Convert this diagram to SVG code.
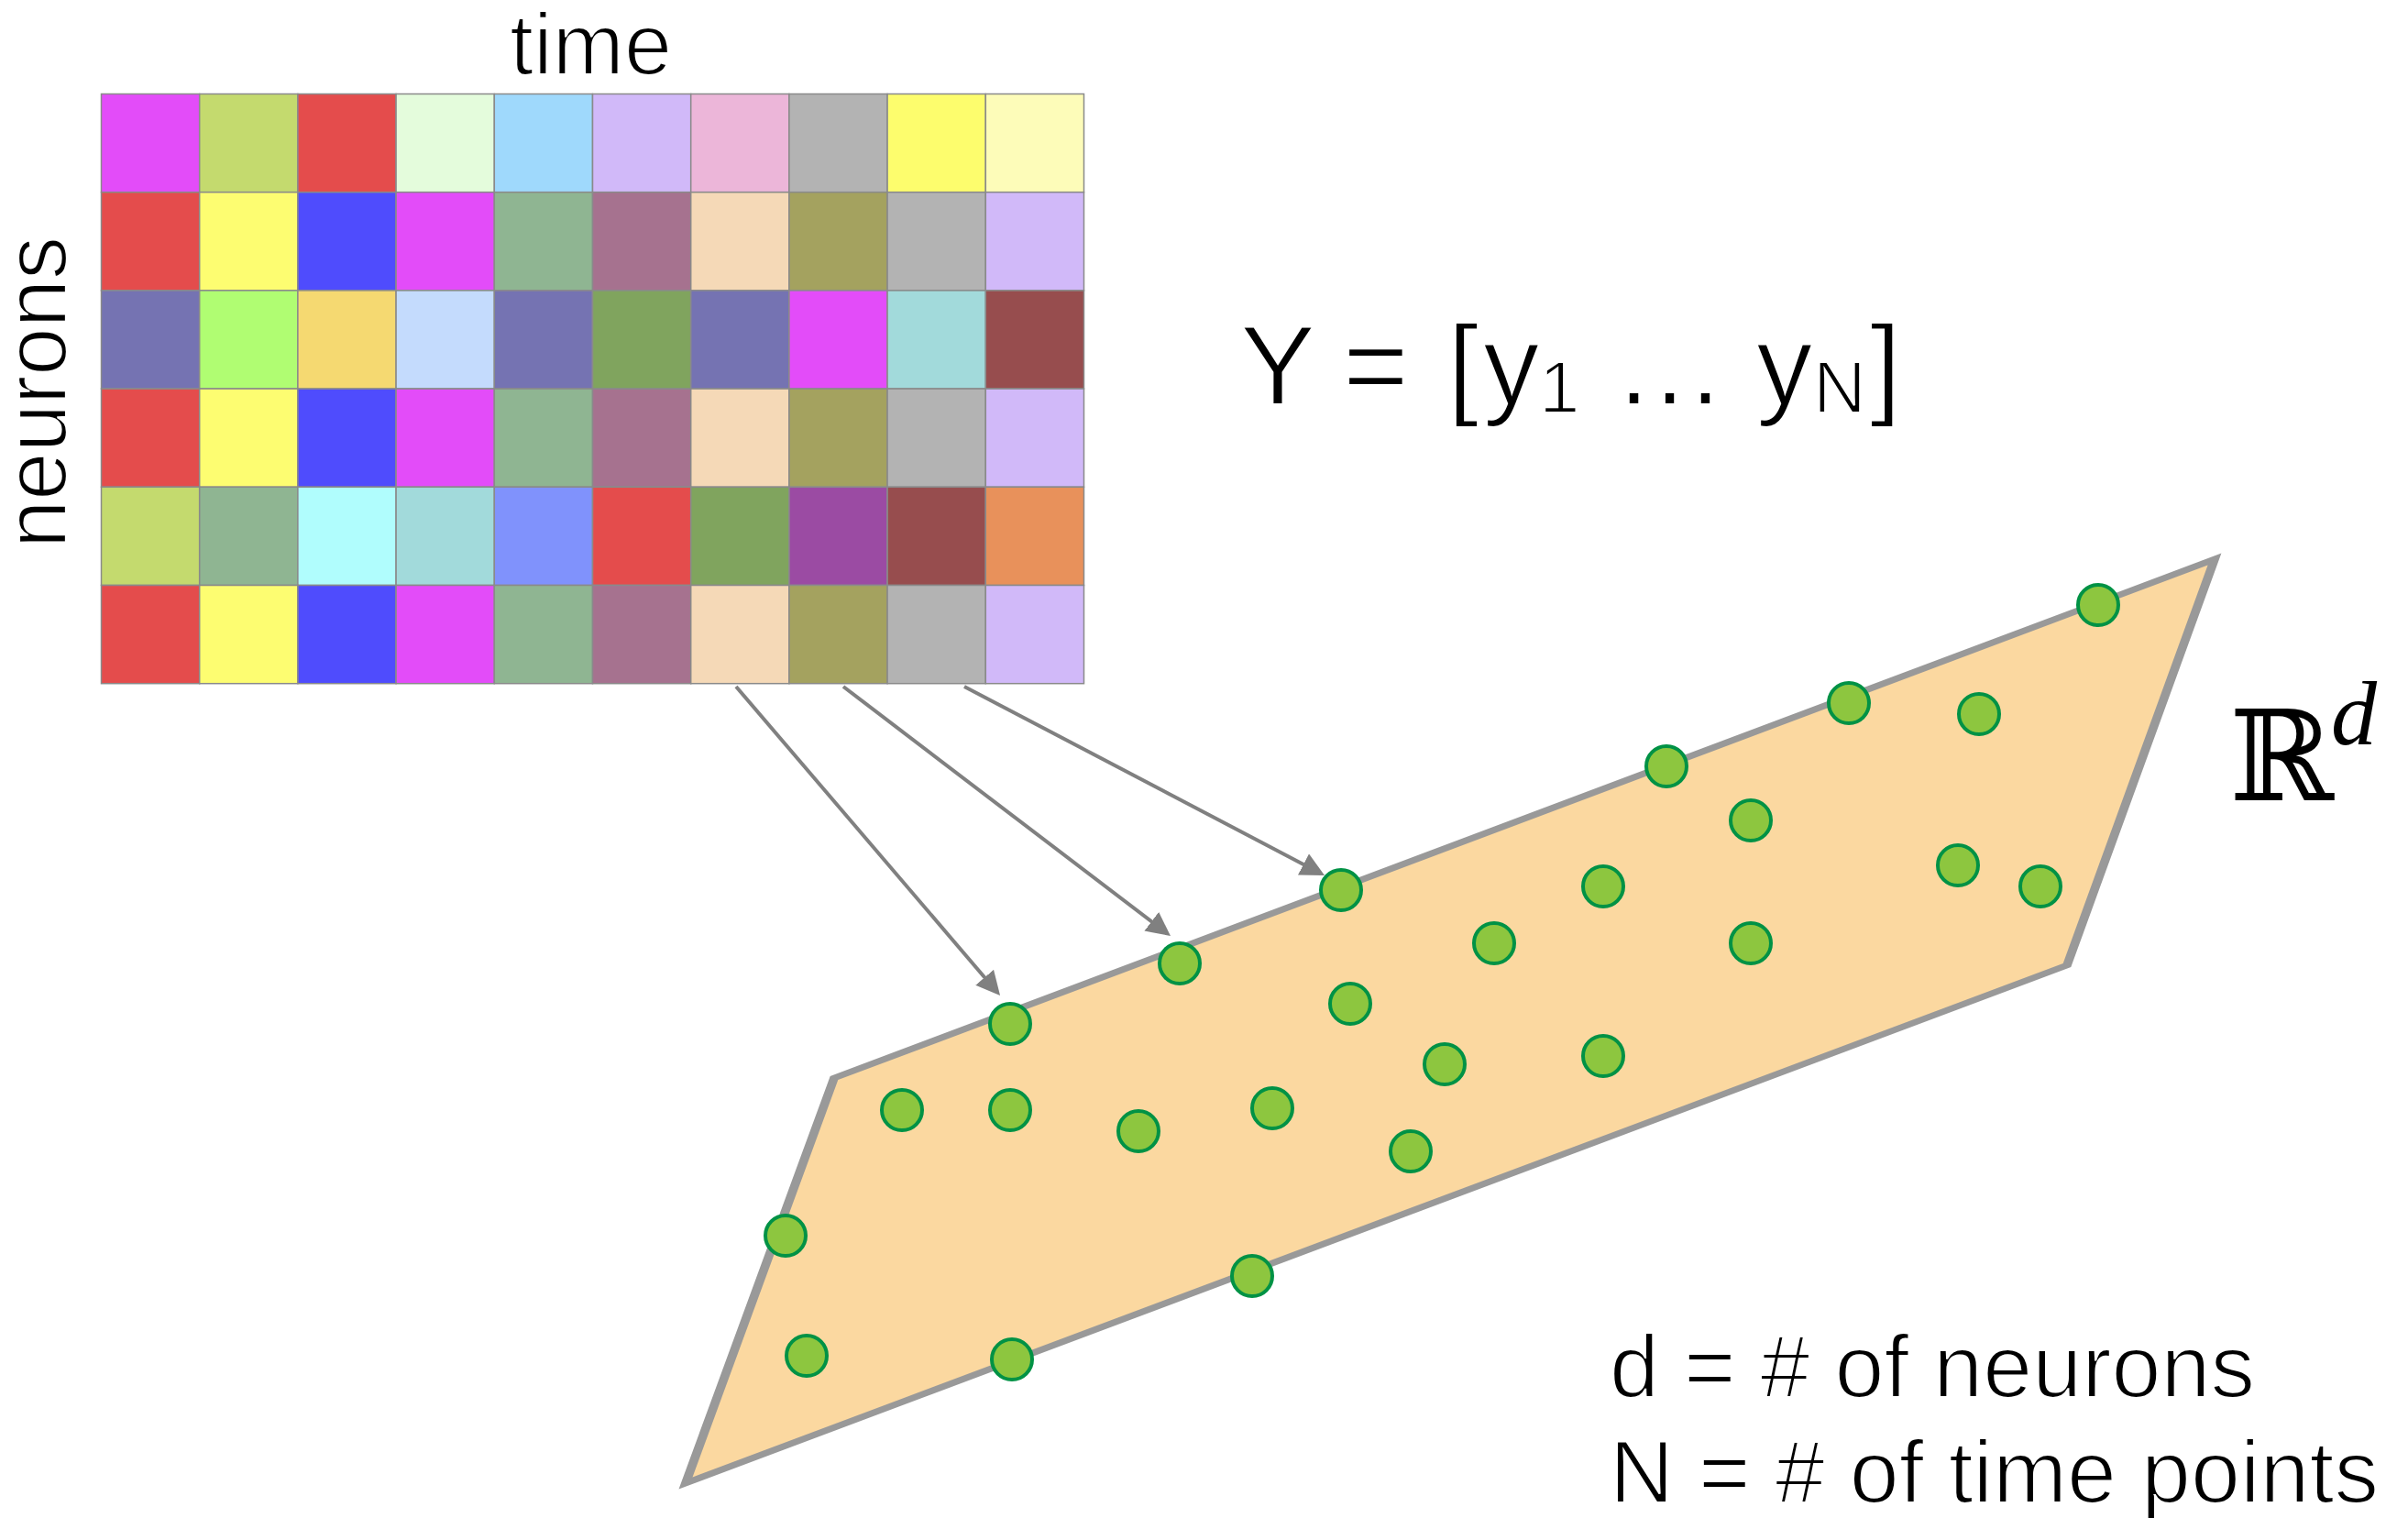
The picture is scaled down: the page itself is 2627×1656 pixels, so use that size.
<svg xmlns="http://www.w3.org/2000/svg" width="2627" height="1656" viewBox="0 0 2627 1656">
<style>
  .lbl { font-family: "Liberation Sans", Arial, Helvetica, sans-serif; fill: #000; stroke: #ffffff; stroke-width: 2.2; paint-order: fill stroke; }
  .cell { stroke: #8a8a8a; stroke-width: 1.5; }
  .dot { fill: #8dc63f; stroke: #009245; stroke-width: 4; }
  .arrow { stroke: #808080; stroke-width: 4; fill: none; marker-end: url(#ah); }
</style>
<defs>
  <marker id="ah" markerUnits="userSpaceOnUse" markerWidth="26" markerHeight="26" refX="21" refY="13" orient="auto">
    <path d="M0,0 L26,13 L0,26 Z" fill="#808080"/>
  </marker>
</defs>
<rect width="2627" height="1656" fill="#ffffff"/>

<g id="time-label"><text class="lbl" x="556" y="81" font-size="94" textLength="177" lengthAdjust="spacingAndGlyphs">time</text></g>
<g id="neurons-label"><text class="lbl" transform="translate(71.5,598) rotate(-90)" font-size="96" textLength="340" lengthAdjust="spacingAndGlyphs">neurons</text></g>

<g id="matrix">
  <g transform="translate(110.5,102.5)">
    <rect class="cell" x="0" y="0" width="107.2" height="107.2" fill="#e34cf9"/>
    <rect class="cell" x="107.2" y="0" width="107.2" height="107.2" fill="#c4da6e"/>
    <rect class="cell" x="214.4" y="0" width="107.2" height="107.2" fill="#e44c4c"/>
    <rect class="cell" x="321.6" y="0" width="107.2" height="107.2" fill="#e4fcdc"/>
    <rect class="cell" x="428.8" y="0" width="107.2" height="107.2" fill="#9fd9fc"/>
    <rect class="cell" x="536" y="0" width="107.2" height="107.2" fill="#d1b9f9"/>
    <rect class="cell" x="643.2" y="0" width="107.2" height="107.2" fill="#ecb6d9"/>
    <rect class="cell" x="750.4" y="0" width="107.2" height="107.2" fill="#b3b3b3"/>
    <rect class="cell" x="857.6" y="0" width="107.2" height="107.2" fill="#fdfd6d"/>
    <rect class="cell" x="964.8" y="0" width="107.2" height="107.2" fill="#fdfcb9"/>

    <rect class="cell" x="0" y="107.2" width="107.2" height="107.2" fill="#e44c4c"/>
    <rect class="cell" x="107.2" y="107.2" width="107.2" height="107.2" fill="#fdfd71"/>
    <rect class="cell" x="214.4" y="107.2" width="107.2" height="107.2" fill="#4f4cfd"/>
    <rect class="cell" x="321.6" y="107.2" width="107.2" height="107.2" fill="#e34cf9"/>
    <rect class="cell" x="428.8" y="107.2" width="107.2" height="107.2" fill="#8fb592"/>
    <rect class="cell" x="536" y="107.2" width="107.2" height="107.2" fill="#a6728f"/>
    <rect class="cell" x="643.2" y="107.2" width="107.2" height="107.2" fill="#f5d9b7"/>
    <rect class="cell" x="750.4" y="107.2" width="107.2" height="107.2" fill="#a4a25f"/>
    <rect class="cell" x="857.6" y="107.2" width="107.2" height="107.2" fill="#b3b3b3"/>
    <rect class="cell" x="964.8" y="107.2" width="107.2" height="107.2" fill="#d1b9f9"/>

    <rect class="cell" x="0" y="214.4" width="107.2" height="107.2" fill="#7573b2"/>
    <rect class="cell" x="107.2" y="214.4" width="107.2" height="107.2" fill="#b0fd72"/>
    <rect class="cell" x="214.4" y="214.4" width="107.2" height="107.2" fill="#f5d971"/>
    <rect class="cell" x="321.6" y="214.4" width="107.2" height="107.2" fill="#c4dbfd"/>
    <rect class="cell" x="428.8" y="214.4" width="107.2" height="107.2" fill="#7573b2"/>
    <rect class="cell" x="536" y="214.4" width="107.2" height="107.2" fill="#80a45e"/>
    <rect class="cell" x="643.2" y="214.4" width="107.2" height="107.2" fill="#7573b2"/>
    <rect class="cell" x="750.4" y="214.4" width="107.2" height="107.2" fill="#e34cf9"/>
    <rect class="cell" x="857.6" y="214.4" width="107.2" height="107.2" fill="#a2dadb"/>
    <rect class="cell" x="964.8" y="214.4" width="107.2" height="107.2" fill="#974d4e"/>

    <rect class="cell" x="0" y="321.6" width="107.2" height="107.2" fill="#e44c4c"/>
    <rect class="cell" x="107.2" y="321.6" width="107.2" height="107.2" fill="#fdfd71"/>
    <rect class="cell" x="214.4" y="321.6" width="107.2" height="107.2" fill="#4f4cfd"/>
    <rect class="cell" x="321.6" y="321.6" width="107.2" height="107.2" fill="#e34cf9"/>
    <rect class="cell" x="428.8" y="321.6" width="107.2" height="107.2" fill="#8fb592"/>
    <rect class="cell" x="536" y="321.6" width="107.2" height="107.2" fill="#a6728f"/>
    <rect class="cell" x="643.2" y="321.6" width="107.2" height="107.2" fill="#f5d9b7"/>
    <rect class="cell" x="750.4" y="321.6" width="107.2" height="107.2" fill="#a4a25f"/>
    <rect class="cell" x="857.6" y="321.6" width="107.2" height="107.2" fill="#b3b3b3"/>
    <rect class="cell" x="964.8" y="321.6" width="107.2" height="107.2" fill="#d1b9f9"/>

    <rect class="cell" x="0" y="428.8" width="107.2" height="107.2" fill="#c4da6e"/>
    <rect class="cell" x="107.2" y="428.8" width="107.2" height="107.2" fill="#8fb592"/>
    <rect class="cell" x="214.4" y="428.8" width="107.2" height="107.2" fill="#b0fdfd"/>
    <rect class="cell" x="321.6" y="428.8" width="107.2" height="107.2" fill="#a2dadb"/>
    <rect class="cell" x="428.8" y="428.8" width="107.2" height="107.2" fill="#8092fc"/>
    <rect class="cell" x="536" y="428.8" width="107.2" height="107.2" fill="#e44c4c"/>
    <rect class="cell" x="643.2" y="428.8" width="107.2" height="107.2" fill="#80a45e"/>
    <rect class="cell" x="750.4" y="428.8" width="107.2" height="107.2" fill="#9b4ba3"/>
    <rect class="cell" x="857.6" y="428.8" width="107.2" height="107.2" fill="#974d4e"/>
    <rect class="cell" x="964.8" y="428.8" width="107.2" height="107.2" fill="#e8915b"/>

    <rect class="cell" x="0" y="536" width="107.2" height="107.2" fill="#e44c4c"/>
    <rect class="cell" x="107.2" y="536" width="107.2" height="107.2" fill="#fdfd71"/>
    <rect class="cell" x="214.4" y="536" width="107.2" height="107.2" fill="#4f4cfd"/>
    <rect class="cell" x="321.6" y="536" width="107.2" height="107.2" fill="#e34cf9"/>
    <rect class="cell" x="428.8" y="536" width="107.2" height="107.2" fill="#8fb592"/>
    <rect class="cell" x="536" y="536" width="107.2" height="107.2" fill="#a6728f"/>
    <rect class="cell" x="643.2" y="536" width="107.2" height="107.2" fill="#f5d9b7"/>
    <rect class="cell" x="750.4" y="536" width="107.2" height="107.2" fill="#a4a25f"/>
    <rect class="cell" x="857.6" y="536" width="107.2" height="107.2" fill="#b3b3b3"/>
    <rect class="cell" x="964.8" y="536" width="107.2" height="107.2" fill="#d1b9f9"/>
  </g>
</g>

<g id="equation">
  <text class="lbl" font-size="123" y="441">
    <tspan x="1353">Y</tspan><tspan x="1465">=</tspan><tspan x="1579">[</tspan><tspan x="1618">y</tspan><tspan x="1679" y="450" font-size="80">1</tspan><tspan x="1760" y="441">…</tspan><tspan x="1916">y</tspan><tspan x="1978" y="450" font-size="80">N</tspan><tspan x="2040" y="441">]</tspan>
  </text>
</g>

<g id="plane">
  <polygon points="910,1176 2416,610 2255,1053 748,1618" fill="#fbd8a0"/>
  <path d="M905.7,1173.9 L2423.4,603.5 L2259.3,1055.1 L740.5,1624.5 Z M914.3,1178.1 L755.5,1611.5 L2250.7,1050.9 L2408.6,616.5 Z" fill="#999999" fill-rule="evenodd"/>
</g>

<g id="rd-label">
  <text x="2432" y="873" font-size="137" font-family="'DejaVu Serif', 'DejaVu Sans', serif" fill="#000">ℝ</text>
  <text x="2543" y="812" font-size="100" font-style="italic" font-family="'Liberation Serif', 'Times New Roman', serif" fill="#000">d</text>
</g>

<g id="connectors">
  <line class="arrow" x1="803" y1="749" x2="1087.8" y2="1082.2"/>
  <line class="arrow" x1="920" y1="749" x2="1273" y2="1018"/>
  <line class="arrow" x1="1052" y1="749" x2="1440.6" y2="952.7"/>
</g>

<g id="points">
  <circle class="dot" cx="2289" cy="660" r="22"/>
  <circle class="dot" cx="2017" cy="767" r="22"/>
  <circle class="dot" cx="2159" cy="779" r="22"/>
  <circle class="dot" cx="1818" cy="836" r="22"/>
  <circle class="dot" cx="1910" cy="895" r="22"/>
  <circle class="dot" cx="1463" cy="971" r="22"/>
  <circle class="dot" cx="1749" cy="967" r="22"/>
  <circle class="dot" cx="2136" cy="944" r="22"/>
  <circle class="dot" cx="2226" cy="967" r="22"/>
  <circle class="dot" cx="1630" cy="1029" r="22"/>
  <circle class="dot" cx="1910" cy="1029" r="22"/>
  <circle class="dot" cx="1287" cy="1051" r="22"/>
  <circle class="dot" cx="1473" cy="1095" r="22"/>
  <circle class="dot" cx="1102" cy="1117" r="22"/>
  <circle class="dot" cx="1576" cy="1161" r="22"/>
  <circle class="dot" cx="1749" cy="1152" r="22"/>
  <circle class="dot" cx="984" cy="1211" r="22"/>
  <circle class="dot" cx="1102" cy="1211" r="22"/>
  <circle class="dot" cx="1242" cy="1234" r="22"/>
  <circle class="dot" cx="1388" cy="1209" r="22"/>
  <circle class="dot" cx="1539" cy="1256" r="22"/>
  <circle class="dot" cx="857" cy="1348" r="22"/>
  <circle class="dot" cx="1366" cy="1392" r="22"/>
  <circle class="dot" cx="880" cy="1479" r="22"/>
  <circle class="dot" cx="1104" cy="1483" r="22"/>
</g>

<g id="legend">
  <text class="lbl" x="1756" y="1524" font-size="97" textLength="704" lengthAdjust="spacing">d = # of neurons</text>
  <text class="lbl" x="1756" y="1639" font-size="97" textLength="839" lengthAdjust="spacing">N = # of time points</text>
</g>
</svg>
